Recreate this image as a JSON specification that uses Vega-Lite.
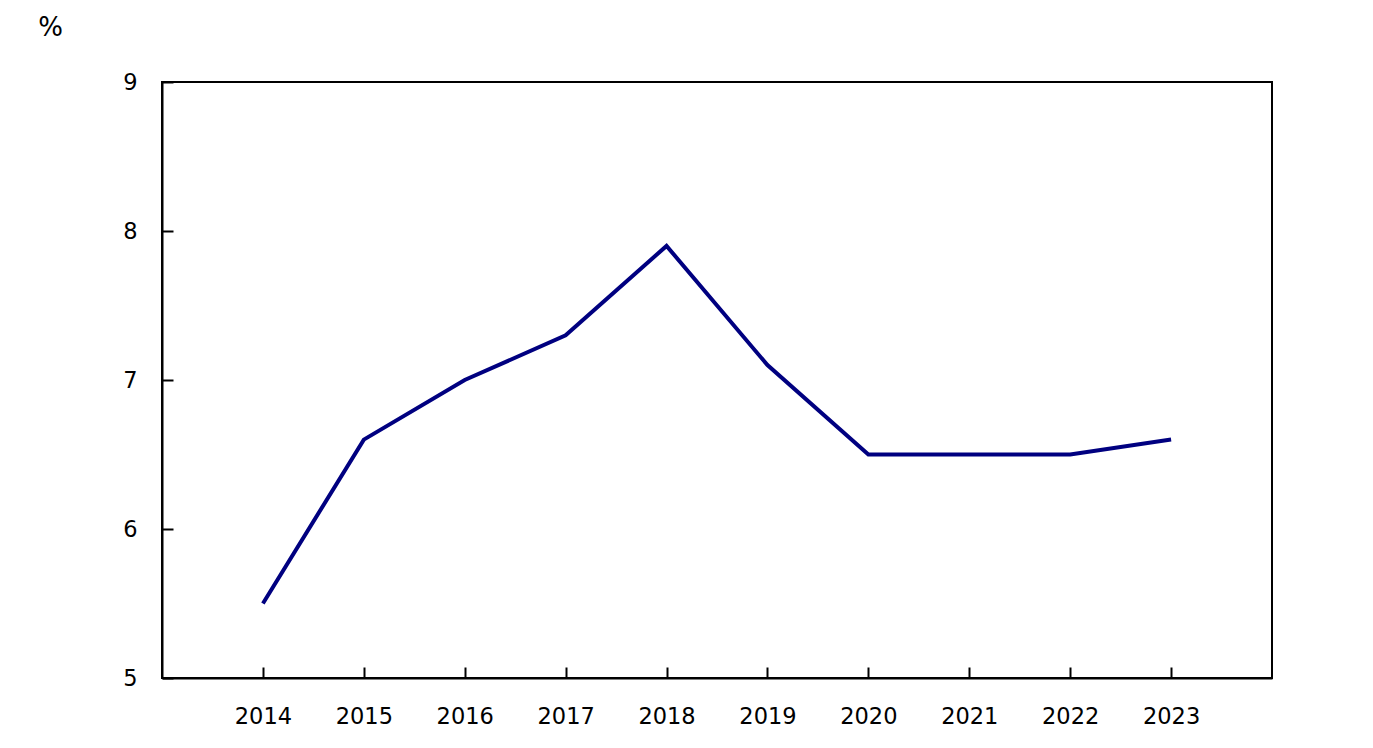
{
  "$schema": "https://vega.github.io/schema/vega-lite/v6.json",
  "width": 1110,
  "height": 596,
  "autosize": "none",
  "padding": {"left": 162, "top": 82, "right": 101, "bottom": 70},
  "background": "white",
  "data": {"values": [
    {"year": "2014", "value": 5.5},
    {"year": "2015", "value": 6.6},
    {"year": "2016", "value": 7.0},
    {"year": "2017", "value": 7.3},
    {"year": "2018", "value": 7.9},
    {"year": "2019", "value": 7.1},
    {"year": "2020", "value": 6.5},
    {"year": "2021", "value": 6.5},
    {"year": "2022", "value": 6.5},
    {"year": "2023", "value": 6.6}
  ]},
  "config": {
    "view": {"stroke": "black", "strokeWidth": 2},
    "font": "DejaVu Sans",
    "axis": {
      "labelFont": "DejaVu Sans",
      "labelFontSize": 22.5,
      "labelColor": "black",
      "tickColor": "black",
      "domainColor": "black",
      "domainWidth": 2,
      "tickWidth": 2,
      "grid": false
    }
  },
  "mark": {"type": "line", "color": "#000080", "strokeWidth": 4},
  "encoding": {
    "x": {
      "field": "year",
      "type": "ordinal",
      "scale": {"type": "point", "padding": 1},
      "axis": {"title": null, "labelAngle": 0, "tickSize": -11, "labelPadding": 38, "domain": true}
    },
    "y": {
      "field": "value",
      "type": "quantitative",
      "scale": {"domain": [5, 9], "nice": false, "zero": false},
      "axis": {
        "values": [5, 6, 7, 8, 9],
        "tickSize": -11,
        "labelPadding": 36,
        "title": "%",
        "titleAngle": 0,
        "titleFontSize": 26,
        "titleFontWeight": "normal",
        "titleColor": "black",
        "titleFont": "DejaVu Sans",
        "titleX": -112,
        "titleY": -55,
        "titleAlign": "center",
        "titleBaseline": "middle"
      }
    }
  }
}
